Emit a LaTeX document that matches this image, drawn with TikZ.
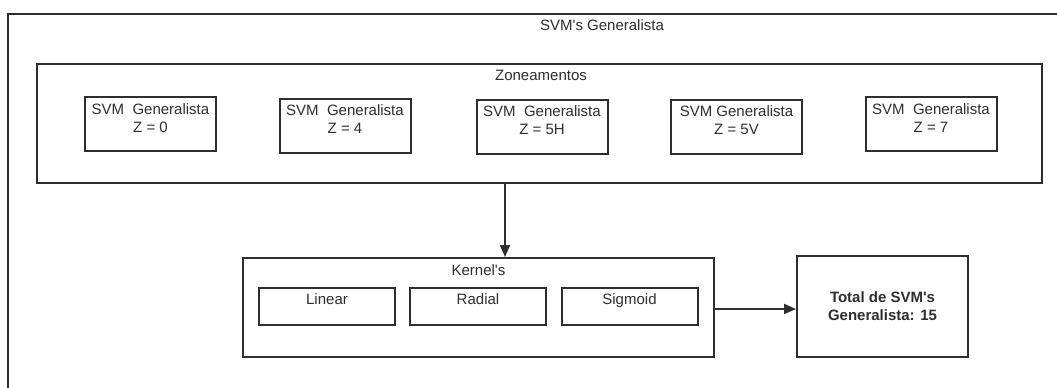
\documentclass[tikz,border=0pt]{standalone}
\usepackage{fontspec}
\setmainfont{Liberation Sans}[Ligatures=TeXOff]
\usetikzlibrary{arrows.meta}
\definecolor{ink}{HTML}{2E2E2E}
\begin{document}
\begin{tikzpicture}[x=1pt,y=-1pt,
  box/.style={draw=ink, line width=2pt, fill=white, inner sep=0pt},
  zbox/.style={box, minimum width=131pt, minimum height=54pt},
  kbox/.style={box, minimum width=136pt, minimum height=37pt},
  txt/.style={text=ink, inner sep=0pt, align=center, font=\fontsize{15}{18}\selectfont},
  arr/.style={draw=ink, line width=2pt, -{Triangle[length=12pt,width=10pt]}}]
\useasboundingbox (0,0) rectangle (1057,388);
\fill[white] (0,0) rectangle (1057,388);

% outer frame (top and left sides)
\draw[ink, line width=2pt] (8,388) -- (8,14) -- (1057,14);
\node[txt] (title) at (602,25) {SVM's Generalista};

% zoning group
\node[box, minimum width=1005pt, minimum height=119pt] (zone) at (539.5,123.5) {};
\node[txt, anchor=north] (zlbl) at ([yshift=-7pt]zone.north -| 541,0) {Zoneamentos};

\node[zbox] (z0)  at (150.5,124)   {};
\node[zbox] (z4)  at (345,125.5)   {};
\node[zbox] (z5h) at (542,126.5)   {};
\node[zbox] (z5v) at (736.5,126.5) {};
\node[zbox] (z7)  at (931,124)     {};
\foreach \b/\t in {z0/{SVM\ \ Generalista\\Z = 0},
                   z4/{SVM\ \ Generalista\\Z = 4},
                   z5h/{SVM\ \ Generalista\\Z = 5H},
                   z5v/{SVM Generalista\\Z = 5V},
                   z7/{SVM\ \ Generalista\\Z = 7}}
  \node[txt, anchor=north] (\b-t) at ([yshift=-7pt]\b.north) {\t};

% kernels group
\node[box, minimum width=471pt, minimum height=99pt] (kern) at (478.5,307.5) {};
\node[txt, anchor=north] (klbl) at ([yshift=-7pt]kern.north) {Kernel's};
\node[kbox] (lin) at (327,306.5)   {};
\node[kbox] (rad) at (478,306.5)   {};
\node[kbox] (sig) at (629.5,306.5) {};
\foreach \b/\t in {lin/Linear, rad/Radial, sig/Sigmoid}
  \node[txt, anchor=north] (\b-t) at ([yshift=-6pt]\b.north) {\t};

% result
\node[box, minimum width=171pt, minimum height=101pt] (total) at (882.5,306.5) {};
\node[txt, font=\fontsize{15}{18}\selectfont\bfseries] (total-t) at (total.center) {Total de SVM's\\Generalista: 15};

% connectors
\draw[arr] (zone.south -| 505,0) -- (kern.north -| 505,0);
\draw[arr] ([yshift=-1.5pt]kern.east) -- ([yshift=-1.5pt]kern.east -| total.west);
\end{tikzpicture}
\end{document}
